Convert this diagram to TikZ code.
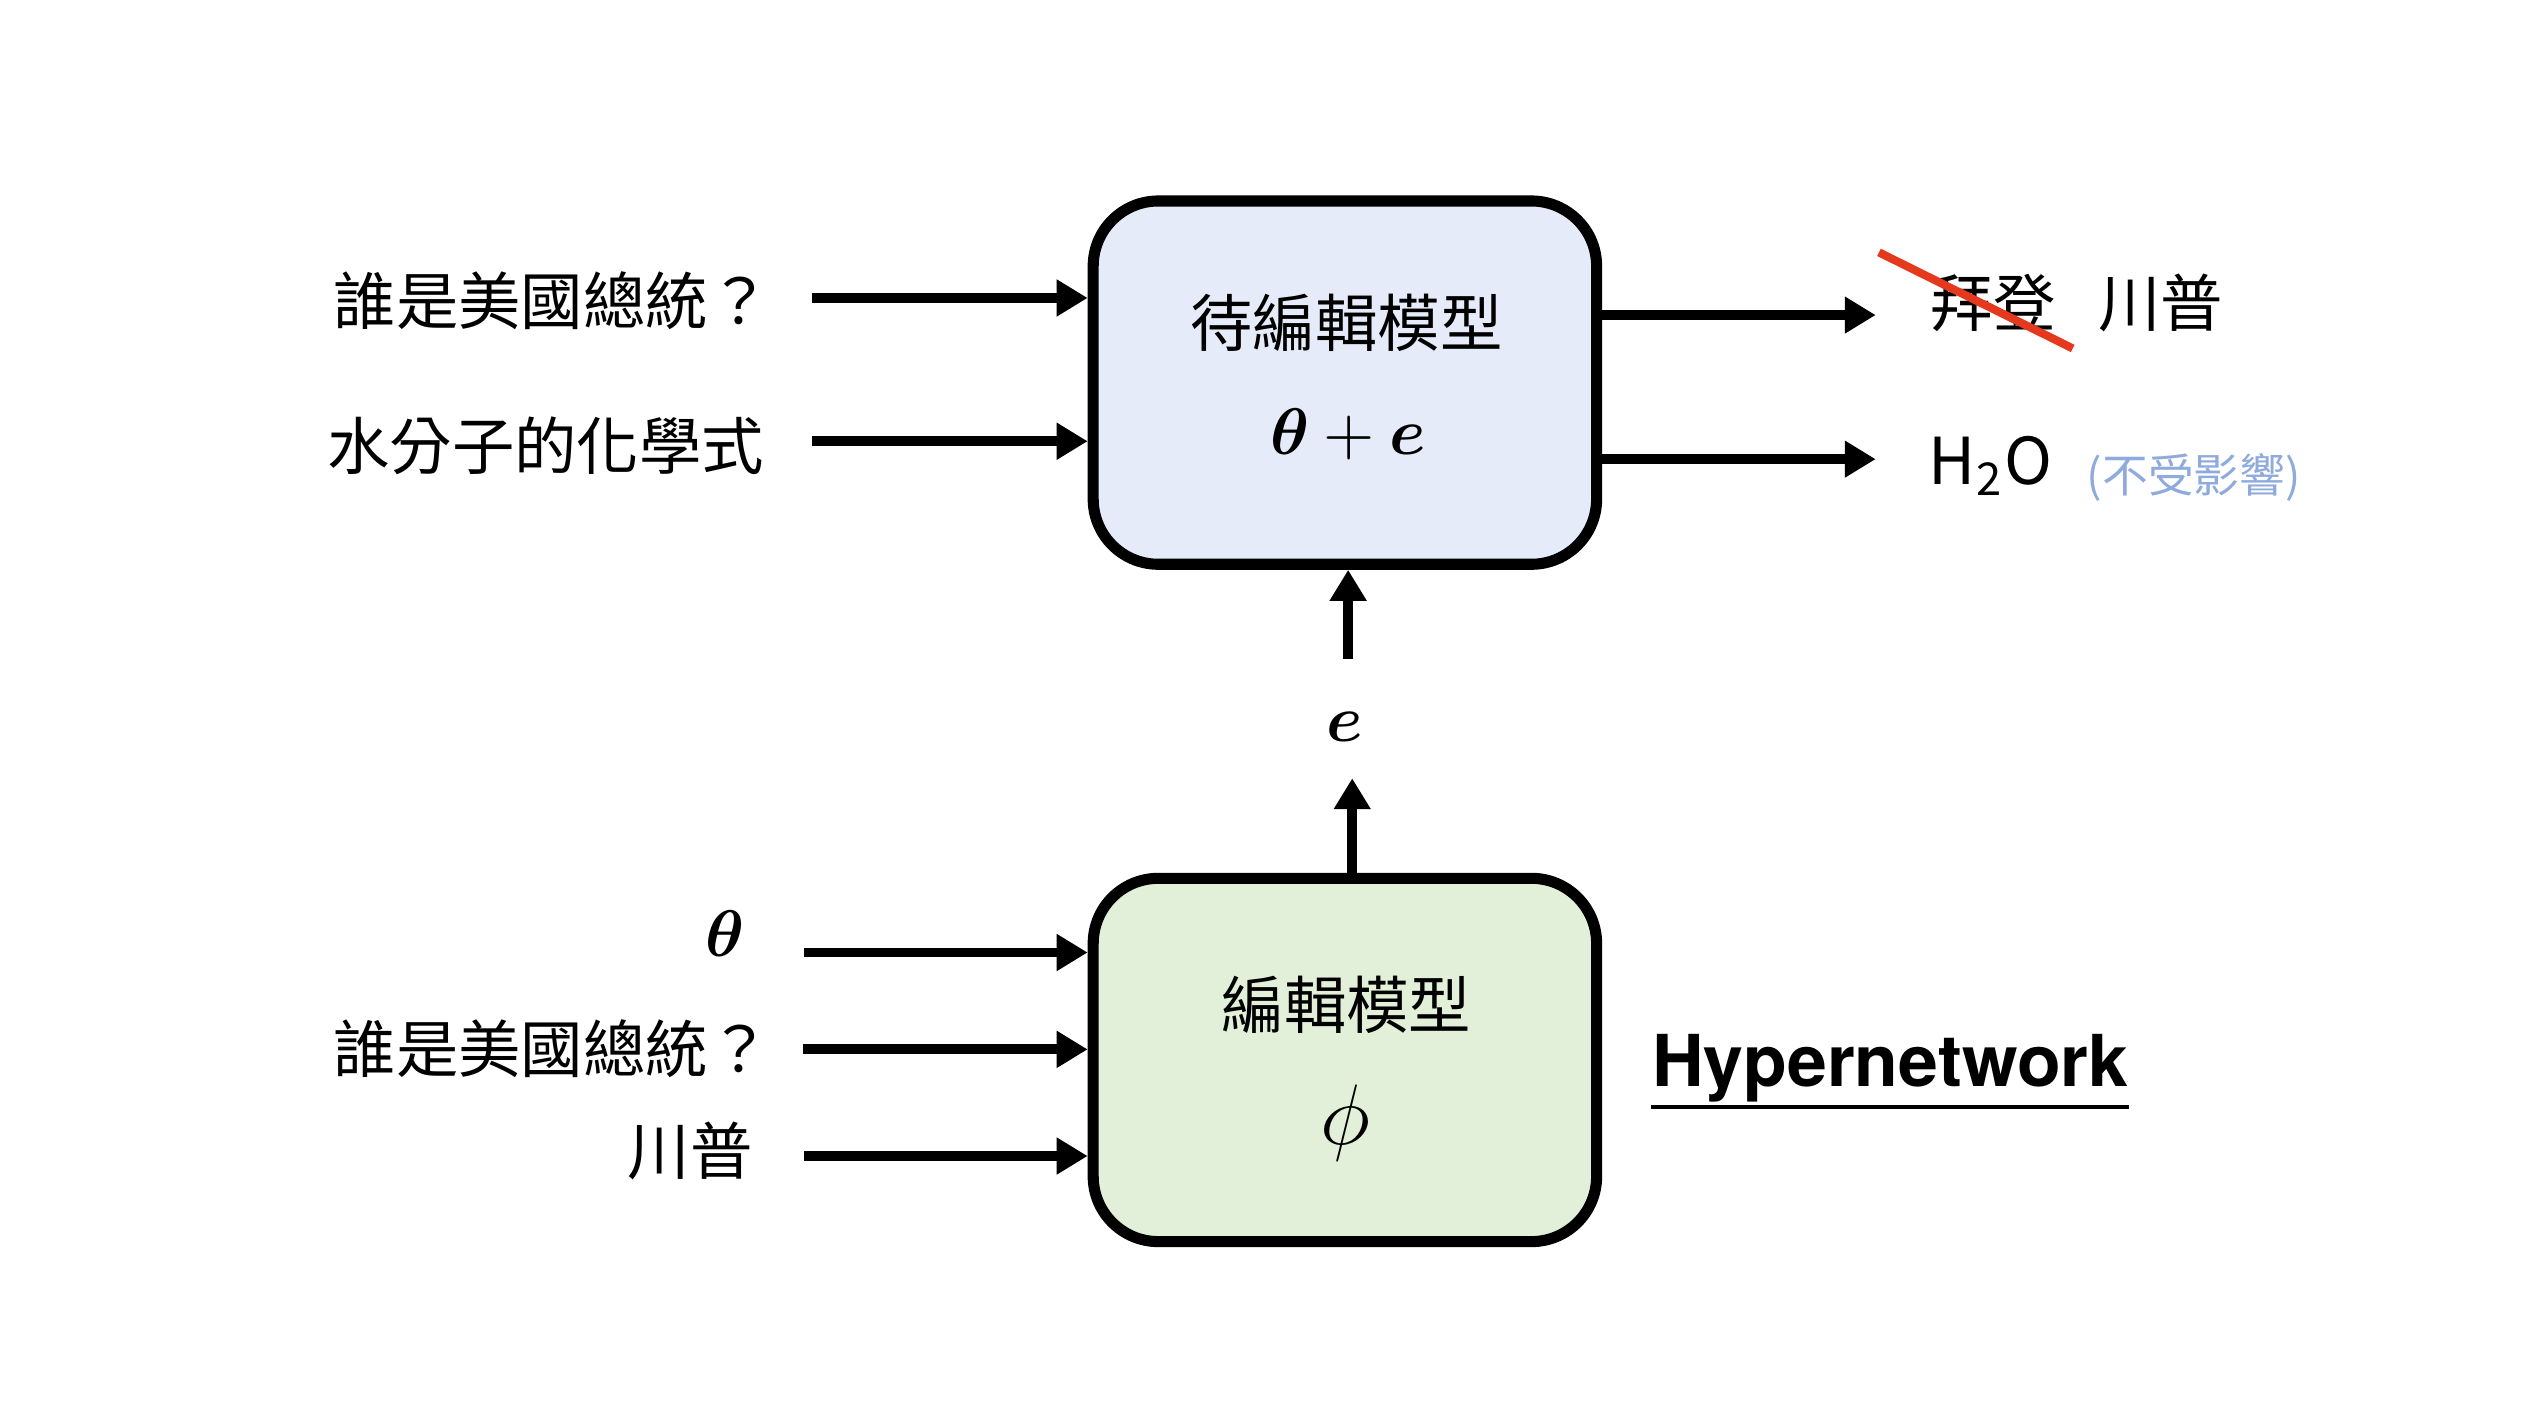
\RequirePackage{fix-cm}
\documentclass[tikz,border=0pt]{standalone}
\usepackage{amsmath,bm}
\usepackage{fontspec}
\setmainfont{Noto Sans CJK TC}
\newfontfamily\hyfont{TeX Gyre Heros}
\usetikzlibrary{arrows.meta}

\definecolor{editblue}{RGB}{229,235,248}
\definecolor{hypergreen}{RGB}{226,240,217}
\definecolor{noteblue}{RGB}{143,170,220}
\definecolor{strikered}{RGB}{229,57,30}

\begin{document}
\begin{tikzpicture}[x=0.01cm, y=-0.01cm,
    box/.style={draw, line width=0.068cm, rounded corners=0.4cm, minimum width=3.09cm, minimum height=2.23cm},
    arr/.style={line width=0.061cm, -{Triangle[length=0.19cm, width=0.215cm]}},
    cjk/.style={font=\fontsize{10.9}{13}\selectfont},
    lbl/.style={cjk, anchor=east, inner xsep=0pt},
    rlbl/.style={cjk, anchor=west, inner xsep=0pt},
    sym/.style={font=\fontsize{11.5}{14}\selectfont}]
        \useasboundingbox (0,0) rectangle (1560,876);

        % the two models
        \node[box, fill=editblue] (edit) at (826,235) {};
        \node[cjk] (editname) at (827,198) {待編輯模型};
        \node[sym] (editpar) at (828,267) {$\bm{\theta}+\bm{e}$};

        \node[box, fill=hypergreen] (hyper) at (826,651) {};
        \node[cjk] (hypername) at (827,617) {編輯模型};
        \node[font=\fontsize{15}{18}\selectfont] (hyperpar) at (826,690) {$\phi$};

        % inputs of the edited model
        \node[lbl] (q1) at (474,185) {誰是美國總統？};
        \node[lbl] (q2) at (470,274) {水分子的化學式};
        \coordinate (s1) at (499,183);  \draw[arr] (s1) -- (s1 -| edit.west);
        \coordinate (s2) at (499,271);  \draw[arr] (s2) -- (s2 -| edit.west);

        % outputs
        \coordinate (o1) at (1152,193.5);  \draw[arr] (o1 -| edit.east) -- (o1);
        \coordinate (o2) at (1152,282);  \draw[arr] (o2 -| edit.east) -- (o2);
        \node[rlbl] (old) at (1185,186) {拜登};
        \node[rlbl] (new) at (1288,186) {川普};
        \draw[strikered, line width=0.05cm] (1154,155) -- (1273,214);
        \node[rlbl, font=\fontsize{11.3}{13}\selectfont] (h2o) at (1184,286) {H\textsubscript{2}O};
        \node[rlbl, text=noteblue, font=\fontsize{8}{10}\selectfont] (keep) at (1281,293.5) {(不受影響)};

        % e from the hypernetwork
        \node[sym] (e) at (826,446.5) {$\bm{e}$};
        \coordinate (eu) at (828,405);  \draw[arr] (eu) -- (eu |- edit.south);
        \coordinate (ed) at (830.5,478);  \draw[arr] (ed |- hyper.north) -- (ed);

        % inputs of the editor
        \node[sym] (th) at (445,573.5) {$\bm{\theta}$};
        \node[lbl] (q3) at (474,644) {誰是美國總統？};
        \node[lbl] (q4) at (463,707) {川普};
        \coordinate (s3) at (494,585);  \draw[arr] (s3) -- (s3 -| hyper.west);
        \coordinate (s4) at (493,644.5);  \draw[arr] (s4) -- (s4 -| hyper.west);
        \coordinate (s5) at (494,710);  \draw[arr] (s5) -- (s5 -| hyper.west);

        \node[anchor=base west, inner xsep=0pt, font=\hyfont\bfseries\fontsize{12.5}{15}\selectfont] (hyp) at (1014,667.5) {Hypernetwork};
        \draw[line width=0.6pt] ([yshift=-0.125cm]hyp.base west) -- ([yshift=-0.125cm]hyp.base east);

    \end{tikzpicture}
\end{document}
